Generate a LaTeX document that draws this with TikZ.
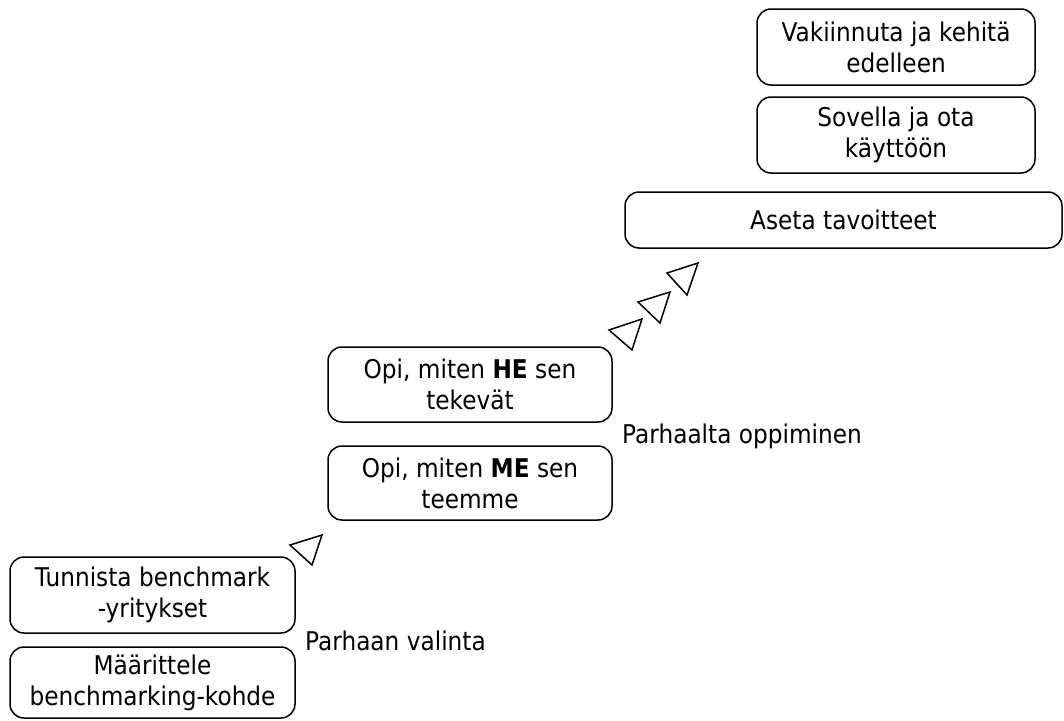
\documentclass[tikz,border=0pt]{standalone}
\usepackage{fontspec}
\setmainfont{DejaVu Sans}[FakeStretch=0.9]
\begin{document}
\begin{tikzpicture}[x=1pt,y=-1pt,
  stepbox/.style={draw, line width=1.5pt, rounded corners=14pt, align=center,
    inner sep=0pt, font=\fontsize{25.8}{31}\selectfont},
  tri/.style={draw, line width=1.5pt, line join=miter},
  lbl/.style={font=\fontsize{25.8}{31}\selectfont, inner sep=0pt}]
\useasboundingbox (0,0) rectangle (1064,720);

% lower stair: choosing the best
\node[stepbox, minimum width=285pt, minimum height=71pt] (def) at (152.5,682.5)
  {Määrittele\\benchmarking-kohde};
\node[stepbox, minimum width=285pt, minimum height=76pt] (ident) at (152.5,595)
  {Tunnista benchmark\\-yritykset};
\node[lbl, anchor=base west] (choose) at (305,650) {Parhaan valinta};

% middle stair: learning from the best
\node[stepbox, minimum width=284pt, minimum height=74pt] (me) at (470,483)
  {Opi, miten \textbf{ME} sen\\teemme};
\node[stepbox, minimum width=284pt, minimum height=75pt] (he) at (470,384.5)
  {Opi, miten \textbf{HE} sen\\tekevät};
\node[lbl, anchor=base west] (learn) at (622,443) {Parhaalta oppiminen};

% upper stair
\node[stepbox, minimum width=437pt, minimum height=56pt] (goals) at (843.5,220)
  {Aseta tavoitteet};
\node[stepbox, minimum width=278pt, minimum height=76pt] (apply) at (896,135)
  {Sovella ja ota\\käyttöön};
\node[stepbox, minimum width=278pt, minimum height=76pt] (keep) at (896,47)
  {Vakiinnuta ja kehitä\\edelleen};

% step markers
\draw[tri] (290,545) -- (322,535) -- (312,565) -- cycle;
\draw[tri] (609,330) -- (642,319) -- (632,350) -- cycle;
\draw[tri] (638,302) -- (670,292) -- (660,323) -- cycle;
\draw[tri] (667,273) -- (698,263) -- (687,295) -- cycle;
\end{tikzpicture}
\end{document}
